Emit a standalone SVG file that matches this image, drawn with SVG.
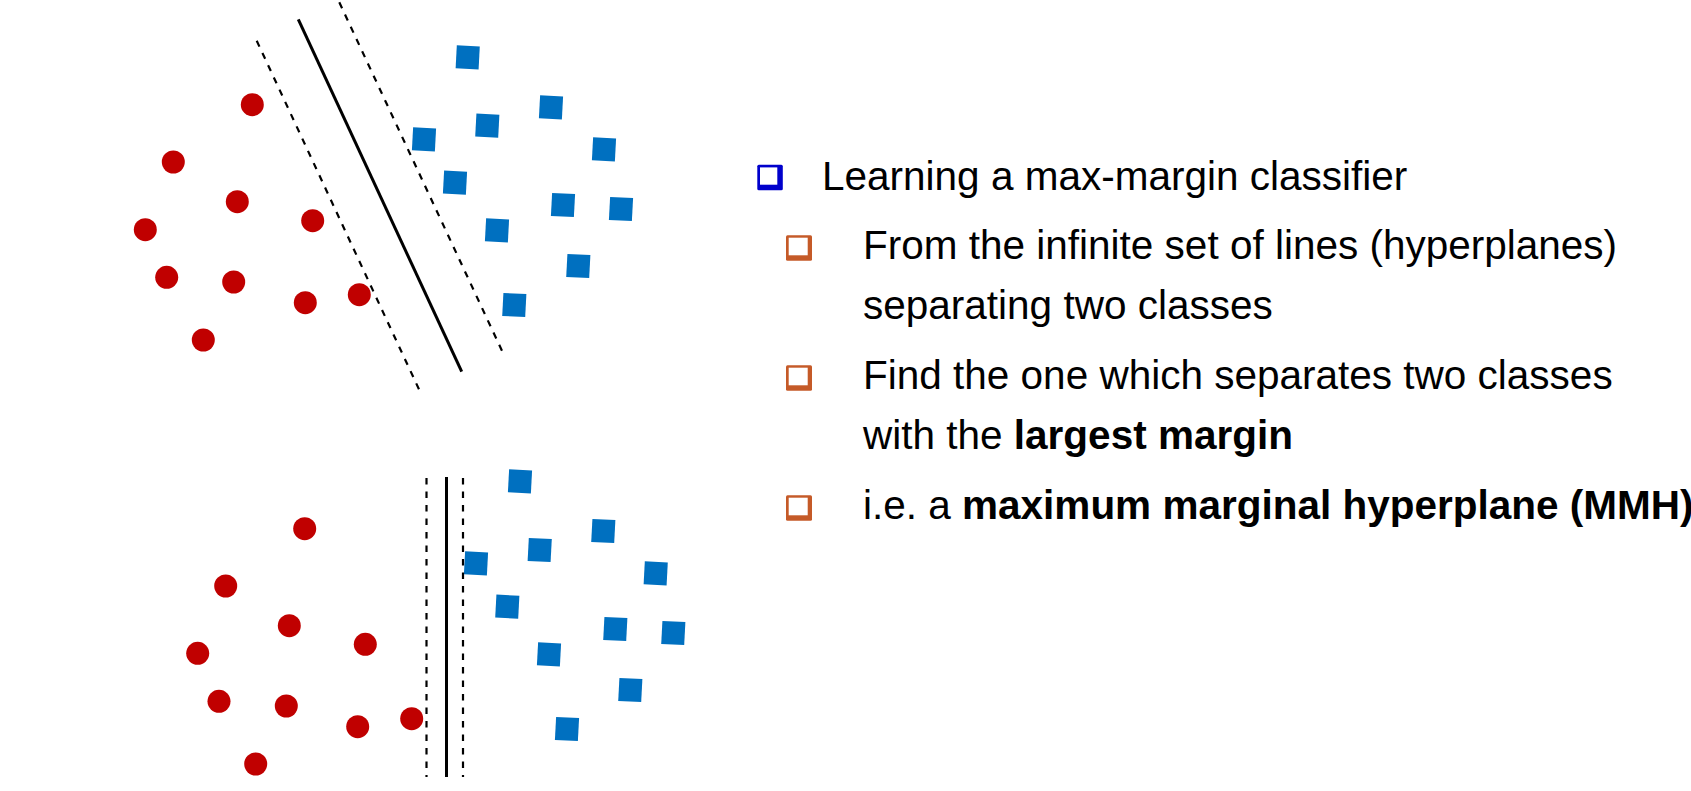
<svg xmlns="http://www.w3.org/2000/svg" xmlns:xlink="http://www.w3.org/1999/xlink" width="1691" height="791" viewBox="0 0 1691 791">
  <style>
    .pt { fill: #C00000; }
    .sol { stroke: #000; stroke-width: 3; fill: none; }
    .dash { stroke: #000; stroke-width: 2.2; fill: none; stroke-dasharray: 6.5 7; }
    .txt { font-family: "Liberation Sans", Arial, sans-serif; font-size: 40.5px; fill: #000; }
    .b { font-weight: bold; }
  </style>
  <defs>
    <rect id="sq" x="-11.5" y="-11.5" width="23" height="23" fill="#0070C0"/>
    <g id="bulBlue">
      <rect x="0" y="0" width="25.5" height="25.5" rx="1.5" fill="#0000CC"/>
      <rect x="2.7" y="2.7" width="17.3" height="17.3" fill="#fff"/>
    </g>
    <g id="bulOrange">
      <rect x="0" y="0" width="26" height="25.5" rx="1.5" fill="#C55A28"/>
      <rect x="2.7" y="2.4" width="19" height="17.6" fill="#fff"/>
    </g>
  </defs>
  <rect width="1691" height="791" fill="#fff"/>

  <g id="top-plot">
    <g id="top-class-red">
      <circle class="pt" cx="252.3" cy="104.7" r="11.5"/>
      <circle class="pt" cx="173.3" cy="162" r="11.5"/>
      <circle class="pt" cx="237.3" cy="201.7" r="11.5"/>
      <circle class="pt" cx="145.3" cy="229.7" r="11.5"/>
      <circle class="pt" cx="312.7" cy="220.7" r="11.5"/>
      <circle class="pt" cx="166.7" cy="277.3" r="11.5"/>
      <circle class="pt" cx="233.7" cy="282" r="11.5"/>
      <circle class="pt" cx="305.3" cy="302.7" r="11.5"/>
      <circle class="pt" cx="359.3" cy="294.7" r="11.5"/>
      <circle class="pt" cx="203.3" cy="340" r="11.5"/>
    </g>
    <g id="top-class-blue">
      <use xlink:href="#sq" transform="translate(467.7,57.3) rotate(3)"/>
      <use xlink:href="#sq" transform="translate(551,107.3) rotate(3)"/>
      <use xlink:href="#sq" transform="translate(487.3,125.7) rotate(3)"/>
      <use xlink:href="#sq" transform="translate(424,139.3) rotate(3)"/>
      <use xlink:href="#sq" transform="translate(604,149.3) rotate(3)"/>
      <use xlink:href="#sq" transform="translate(455,182.7) rotate(3)"/>
      <use xlink:href="#sq" transform="translate(563,205) rotate(3)"/>
      <use xlink:href="#sq" transform="translate(621,209) rotate(3)"/>
      <use xlink:href="#sq" transform="translate(497,230.3) rotate(3)"/>
      <use xlink:href="#sq" transform="translate(578.3,266) rotate(3)"/>
      <use xlink:href="#sq" transform="translate(514.3,305) rotate(3)"/>
    </g>
    <g id="top-lines">
      <line class="sol" x1="298.3" y1="19.3" x2="461.7" y2="371.7"/>
      <line class="dash" x1="256.7" y1="40.7" x2="419.3" y2="390"/>
      <line class="dash" x1="339.3" y1="2.3" x2="502.7" y2="352.3"/>
    </g>
  </g>

  <g id="bottom-plot">
    <g id="bottom-class-red">
      <circle class="pt" cx="304.7" cy="528.7" r="11.5"/>
      <circle class="pt" cx="225.7" cy="586" r="11.5"/>
      <circle class="pt" cx="289.3" cy="625.7" r="11.5"/>
      <circle class="pt" cx="197.7" cy="653.3" r="11.5"/>
      <circle class="pt" cx="365.3" cy="644.3" r="11.5"/>
      <circle class="pt" cx="219" cy="701.3" r="11.5"/>
      <circle class="pt" cx="286.3" cy="706" r="11.5"/>
      <circle class="pt" cx="357.7" cy="726.7" r="11.5"/>
      <circle class="pt" cx="411.7" cy="718.7" r="11.5"/>
      <circle class="pt" cx="255.7" cy="764" r="11.5"/>
    </g>
    <g id="bottom-class-blue">
      <use xlink:href="#sq" transform="translate(520,481.3) rotate(3)"/>
      <use xlink:href="#sq" transform="translate(603.3,531) rotate(3)"/>
      <use xlink:href="#sq" transform="translate(539.7,550) rotate(3)"/>
      <use xlink:href="#sq" transform="translate(476,563.3) rotate(3)"/>
      <use xlink:href="#sq" transform="translate(655.7,573.3) rotate(3)"/>
      <use xlink:href="#sq" transform="translate(507.3,606.7) rotate(3)"/>
      <use xlink:href="#sq" transform="translate(615.3,629) rotate(3)"/>
      <use xlink:href="#sq" transform="translate(673.3,633) rotate(3)"/>
      <use xlink:href="#sq" transform="translate(549,654.3) rotate(3)"/>
      <use xlink:href="#sq" transform="translate(630.3,690) rotate(3)"/>
      <use xlink:href="#sq" transform="translate(567,729) rotate(3)"/>
    </g>
    <g id="bottom-lines">
      <line class="dash" x1="426.5" y1="478" x2="426.5" y2="777"/>
      <line class="sol" x1="446.5" y1="477" x2="446.5" y2="777"/>
      <line class="dash" x1="463" y1="478" x2="463" y2="777"/>
    </g>
  </g>

  <g id="bullets">
    <g id="item-1">
      <use xlink:href="#bulBlue" x="757.3" y="164.7"/>
      <text class="txt" x="822" y="190">Learning a max-margin classifier</text>
    </g>
    <g id="item-1a">
      <use xlink:href="#bulOrange" x="786" y="235.3"/>
      <text class="txt" x="863" y="259">From the infinite set of lines (hyperplanes)</text>
      <text class="txt" x="863" y="319">separating two classes</text>
    </g>
    <g id="item-1b">
      <use xlink:href="#bulOrange" x="786" y="365.3"/>
      <text class="txt" x="863" y="389">Find the one which separates two classes</text>
      <text class="txt" x="863" y="449">with the <tspan class="b">largest margin</tspan></text>
    </g>
    <g id="item-1c">
      <use xlink:href="#bulOrange" x="786" y="495.3"/>
      <text class="txt" x="863" y="519">i.e. a <tspan class="b">maximum marginal hyperplane (MMH)</tspan></text>
    </g>
  </g>
</svg>
